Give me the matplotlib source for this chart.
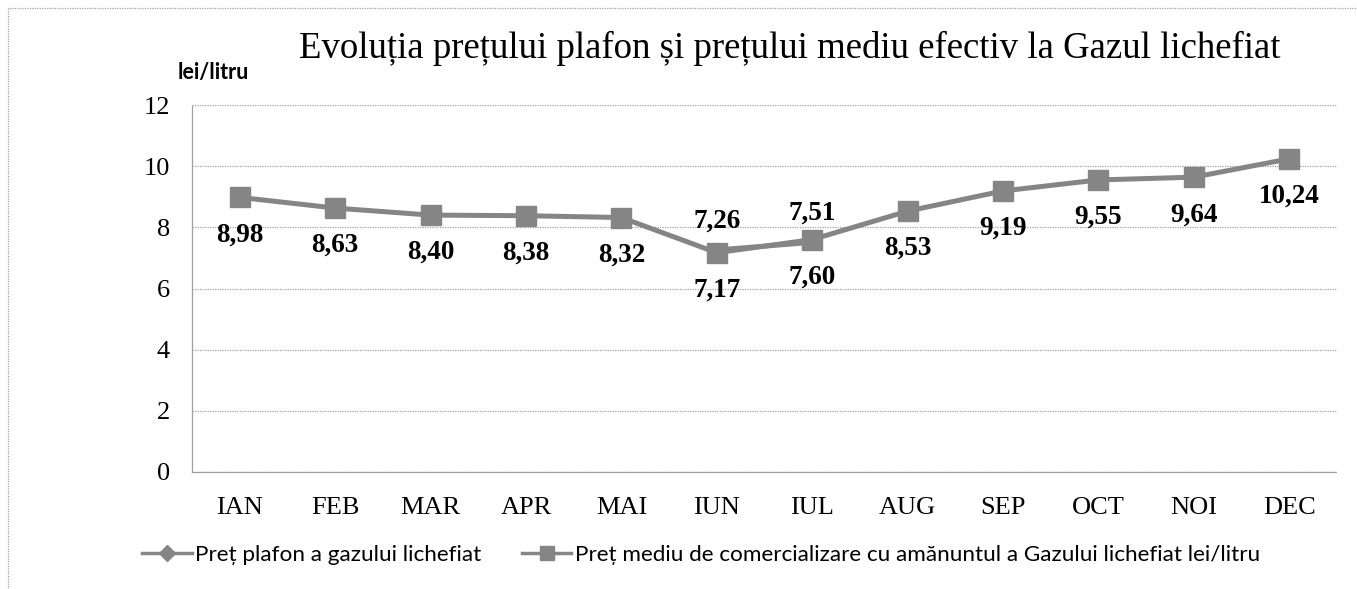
import numpy as np
import matplotlib
matplotlib.use("Agg")
import matplotlib.pyplot as plt
from matplotlib.lines import Line2D
from matplotlib.patches import Rectangle

months = ["IAN", "FEB", "MAR", "APR", "MAI", "IUN", "IUL", "AUG", "SEP", "OCT", "NOI", "DEC"]
pret_plafon = [np.nan, np.nan, np.nan, np.nan, np.nan, 7.26, 7.51, np.nan, np.nan, np.nan, np.nan, np.nan]
pret_mediu = [8.98, 8.63, 8.40, 8.38, 8.32, 7.17, 7.60, 8.53, 9.19, 9.55, 9.64, 10.24]
yticks = [0, 2, 4, 6, 8, 10, 12]
lbl_plafon = "Preț plafon a gazului lichefiat"
lbl_mediu = "Preț mediu de comercializare cu amănuntul a Gazului lichefiat lei/litru"

serif = "Liberation Serif"
sans = "Lato"
lineColor = "#858585"
gridColor = "#a0a0a0"

fig = plt.figure(figsize=(13.57, 5.89), dpi=100)
ax = fig.add_axes([192 / 1357, 117 / 589, 1145 / 1357, 367 / 589])

x = np.arange(len(months))
ax.plot(x, pret_plafon, color=lineColor, lw=3.6, marker="D", ms=7,
        mfc=lineColor, mec=lineColor, zorder=2)
ax.plot(x, pret_mediu, color=lineColor, lw=3.6, marker="s", ms=14,
        mfc=lineColor, mec=lineColor, zorder=3)


def fmt(v):
    return f"{v:.2f}".replace(".", ",")


for i, v in enumerate(pret_mediu):
    ax.annotate(fmt(v), (i, v), xytext=(0, -27), textcoords="offset points",
                ha="center", va="center", fontsize=19.5, fontweight="bold", family=serif)
for i, v in enumerate(pret_plafon):
    if not np.isnan(v):
        ax.annotate(fmt(v), (i, v), xytext=(0, 21), textcoords="offset points",
                    ha="center", va="center", fontsize=19.5, fontweight="bold", family=serif)

ax.set_xlim(-0.5, 11.5)
ax.set_ylim(0, 12)
ax.set_yticks(yticks)
ax.set_yticklabels([str(t) for t in yticks], family=serif, fontsize=19)
ax.set_xticks(x)
ax.set_xticklabels(months, family=serif, fontsize=19)
ax.tick_params(length=0)
ax.tick_params(axis="x", pad=18)
ax.tick_params(axis="y", pad=16)
ax.grid(axis="y", color=gridColor, ls=(0, (1, 1)), lw=0.9)
for s in ax.spines.values():
    s.set_color(gridColor)
    s.set_linestyle((0, (1, 1)))
    s.set_linewidth(0.9)
ax.spines["top"].set_visible(False)
ax.spines["right"].set_visible(False)

fig.text(790 / 1357, 1 - 48 / 589,
         "Evoluția prețului plafon și prețului mediu efectiv la Gazul lichefiat",
         ha="center", va="center", family=serif, fontsize=26.5)
fig.text(178 / 1357, 1 - 72 / 589, "lei/litru", ha="left", va="center",
         family=sans, fontweight="bold", fontsize=15.5)

handles = [
    Line2D([], [], color=lineColor, lw=2.5, marker="D", ms=8, mfc=lineColor, mec=lineColor),
    Line2D([], [], color=lineColor, lw=2.5, marker="s", ms=10, mfc=lineColor, mec=lineColor),
]
fig.legend(handles, [lbl_plafon, lbl_mediu], loc="center left",
           bbox_to_anchor=(122 / 1357, 1 - 555 / 589), ncol=2, frameon=False,
           prop={"family": sans, "size": 16.2}, handlelength=2.2,
           columnspacing=1.8, handletextpad=0.15)

fig.patches.append(Rectangle((8 / 1357, -0.1), 1.2, 1 - 8 / 589 + 0.1,
                             transform=fig.transFigure, fill=False, ec=gridColor,
                             ls=(0, (1, 1)), lw=0.9))

fig.savefig("out.png", dpi=100)
